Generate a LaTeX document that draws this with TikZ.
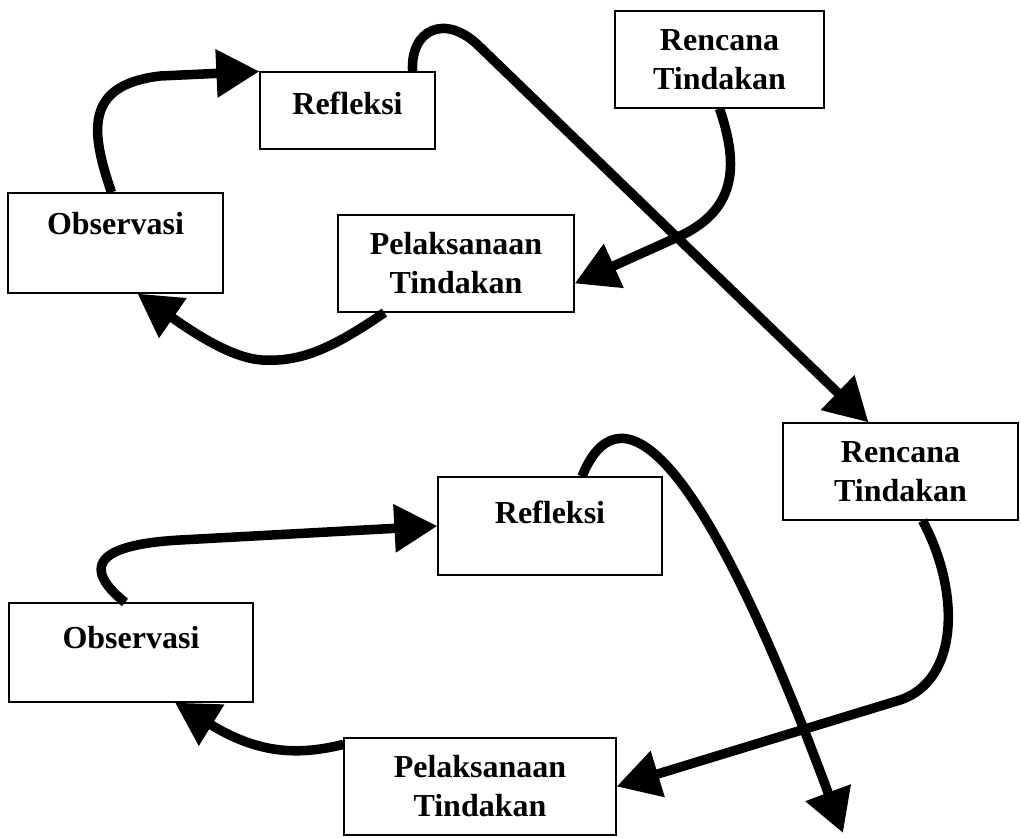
\documentclass[tikz,border=0pt]{standalone}
\usepackage{fontspec}
\setmainfont{Liberation Serif}
\usetikzlibrary{arrows.meta}
\tikzset{
  box/.style={draw, line width=0.6pt, inner sep=0pt, align=center, font=\bfseries\fontsize{16pt}{19.5pt}\selectfont},
  flow/.style={line width=4.75pt, -{Triangle[length=21.5pt,width=23pt]}}
}
\begin{document}
\begin{tikzpicture}[x=0.5pt, y=-0.5pt]
        \useasboundingbox (0,0) rectangle (1021,837);
        \node[box, minimum width=104.5pt, minimum height=48.5pt] (renc1) at (719.5,59.5) {Rencana\\Tindakan};
        \node[box, minimum width=87.5pt, minimum height=38.5pt] (refl1) at (347.5,110.5) {Refleksi\\[-12pt]\mbox{}};
        \node[box, minimum width=107.5pt, minimum height=50pt] (obs1) at (115.5,243) {Observasi\\\mbox{}};
        \node[box, minimum width=118pt, minimum height=48.5pt] (pel1) at (456,263.5) {Pelaksanaan\\Tindakan};
        \node[box, minimum width=117.5pt, minimum height=48.5pt] (renc2) at (900.5,471.5) {Rencana\\Tindakan};
        \node[box, minimum width=112pt, minimum height=49pt] (refl2) at (550,526) {Refleksi\\[-5.5pt]\mbox{}};
        \node[box, minimum width=122pt, minimum height=49.5pt] (obs2) at (131,652.5) {Observasi\\[-4pt]\mbox{}};
        \node[box, minimum width=136pt, minimum height=48.5pt] (pel2) at (480,786.5) {Pelaksanaan\\Tindakan};
        \coordinate (end2) at (843,833);
        \draw[flow] ([xshift=-2pt]obs1.north) .. controls (90,130) and (85,85) .. (160,76) -- (refl1.north west);
        \draw[flow] ([xshift=23.5pt]pel1.south west) .. controls (330,350) and (300,362) .. (262,360)
            .. controls (230,358) and (190,330) .. ([xshift=11pt]obs1.south);
        \draw[flow] (renc1.south) .. controls (737,160) and (740,208) .. (680,236) -- ([yshift=-10pt]pel1.east);
        \draw[flow] ([xshift=-11.5pt]refl1.north east) .. controls (410,30) and (445,12) .. (480,47) -- ([xshift=-16pt]renc2.north);
        \draw[flow] ([xshift=11pt]renc2.south) .. controls (960,590) and (960,680) .. (900,700) -- (pel2.east);
        \draw[flow] ([yshift=-3.5pt]pel2.north west) .. controls (300,755) and (260,755) .. ([xshift=22pt]obs2.south);
        \draw[flow] ([xshift=-3pt]obs2.north) .. controls (85,570) and (90,545) .. (180,540) -- (refl2.west);
        \draw[flow] ([xshift=16pt]refl2.north) .. controls (615,395) and (690,420) .. (end2);
\end{tikzpicture}
\end{document}
